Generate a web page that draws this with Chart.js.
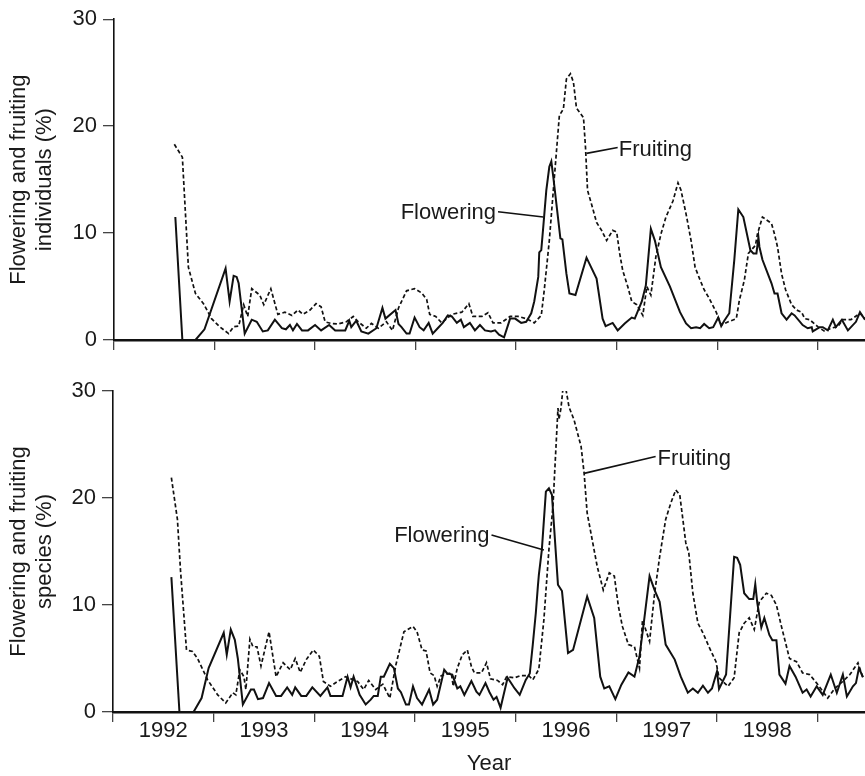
<!DOCTYPE html>
<html><head><meta charset="utf-8">
<script src="https://cdn.jsdelivr.net/npm/chart.js@4.4.1/dist/chart.umd.min.js"></script>
<style>
html,body{margin:0;padding:0;background:#fff;}
#wrap{position:relative;width:865px;height:776px;overflow:hidden;}
.panel{position:absolute;left:0;width:865px;}
</style></head><body>
<div id="wrap">
<div class="panel" style="top:0;height:360px"><canvas id="c1" width="865" height="360"></canvas></div>
<div class="panel" style="top:360px;height:416px"><canvas id="c2" width="865" height="416"></canvas></div>
</div>
<script>
const FONT = "'Liberation Sans', Arial, Helvetica, sans-serif";

// ---- axis ticks ----
const yearTicks  = [1992, 1993, 1994, 1995, 1996, 1997, 1998, 1999];
const yearLabels = ['1992', '1993', '1994', '1995', '1996', '1997', '1998', ''];
const valueTicks = [0, 10, 20, 30];

// ---- top panel: individuals (%) ----
const indivFloweringYears = [
  1992.61,1992.68,1992.81,1992.90,
  1993.11,1993.15,1993.19,1993.22,1993.24,1993.30,1993.37,1993.42,1993.48,1993.53,1993.60,1993.67,1993.71,1993.75,1993.78,1993.82,1993.87,1993.93,
  1994.00,1994.06,1994.14,1994.20,1994.30,1994.34,1994.36,1994.41,1994.46,1994.53,1994.61,1994.67,1994.70,1994.80,1994.83,1994.86,1994.91,1994.94,1994.99,
  1995.04,1995.08,1995.13,1995.17,1995.22,1995.27,1995.32,1995.36,1995.41,1995.45,1995.48,1995.54,1995.59,1995.64,1995.69,1995.75,1995.79,1995.83,1995.88,1995.94,1995.99,
  1996.05,1996.10,1996.15,1996.18,1996.22,1996.23,1996.25,1996.27,1996.30,1996.33,1996.35,1996.37,1996.44,1996.46,1996.50,1996.53,1996.59,1996.70,1996.80,1996.86,1996.89,1996.96,
  1997.01,1997.08,1997.15,1997.18,1997.25,1997.29,1997.34,1997.38,1997.44,1997.53,1997.63,1997.69,1997.74,1997.79,1997.83,1997.87,1997.92,1997.96,
  1998.01,1998.04,1998.07,1998.12,1998.17,1998.21,1998.26,1998.33,1998.36,1998.39,1998.41,1998.42,1998.45,1998.54,1998.57,1998.60,1998.64,1998.69,1998.74,1998.77,1998.85,1998.90,1998.94,1998.95,
  1999.02,1999.05,1999.10,1999.15,1999.18,1999.24,1999.30,1999.38,1999.42,1999.47];
const indivFloweringValues = [
  11.5,0,0,1.0,
  6.7,3.6,6.0,5.9,5.3,0.6,1.9,1.7,0.8,0.9,1.9,1.1,1.0,1.4,0.9,1.5,0.9,0.9,
  1.4,0.9,1.4,0.9,0.9,1.8,1.2,1.8,0.8,0.6,1.1,3.0,2.0,2.8,1.5,1.2,0.6,0.6,2.1,
  1.2,0.9,1.6,0.6,1.1,1.6,2.3,2.2,1.6,1.9,1.2,1.6,0.9,1.4,0.9,0.8,0.9,0.5,0.25,2.0,2.0,
  1.6,1.7,2.5,3.6,5.9,8.2,8.4,10.6,14.0,16.2,16.7,15.2,9.5,9.4,6.2,4.35,4.2,7.7,5.75,2.0,1.3,1.6,
  0.9,1.55,2.1,2.0,3.6,5.1,10.4,9.3,6.8,5.0,2.6,1.55,1.1,1.2,1.1,1.5,1.1,1.2,
  2.1,1.3,1.8,2.5,7.5,12.2,11.5,8.4,8.1,8.1,9.6,8.7,7.5,5.3,4.35,4.35,2.5,1.9,2.5,2.3,1.4,1.1,1.2,0.8,
  1.2,1.2,0.9,1.9,1.2,1.9,0.9,1.7,2.6,1.9];

const indivFruitingYears = [
  1992.60,1992.68,1992.74,1992.81,1992.89,1992.97,
  1993.05,1993.14,1993.19,1993.24,1993.29,1993.33,1993.37,1993.45,1993.49,1993.56,1993.63,1993.70,1993.77,1993.83,1993.88,1993.95,
  1994.01,1994.06,1994.10,1994.16,1994.23,1994.31,1994.38,1994.43,1994.51,1994.56,1994.63,1994.71,1994.77,1994.83,1994.91,1994.99,
  1995.06,1995.11,1995.14,1995.20,1995.26,1995.36,1995.46,1995.53,1995.57,1995.66,1995.72,1995.77,1995.85,1995.94,
  1996.02,1996.10,1996.18,1996.25,1996.28,1996.33,1996.38,1996.43,1996.47,1996.50,1996.54,1996.57,1996.60,1996.67,1996.69,1996.71,1996.75,1996.80,1996.85,1996.90,1996.96,
  1997.00,1997.03,1997.06,1997.11,1997.15,1997.20,1997.26,1997.30,1997.34,1997.39,1997.44,1997.49,1997.56,1997.61,1997.64,1997.69,1997.74,1997.78,1997.83,1997.87,1997.92,1997.99,
  1998.04,1998.11,1998.19,1998.22,1998.27,1998.31,1998.38,1998.40,1998.45,1998.54,1998.57,1998.60,1998.64,1998.68,1998.74,1998.79,1998.84,1998.87,1998.92,
  1999.00,1999.07,1999.13,1999.20,1999.25,1999.33,1999.42,1999.47];
const indivFruitingValues = [
  18.3,17.1,6.8,4.35,3.4,2.0,
  1.25,0.6,1.25,1.3,3.3,2.2,4.8,4.2,3.3,4.8,2.4,2.6,2.3,2.8,2.4,2.8,
  3.4,3.1,1.7,1.55,1.5,1.7,2.2,1.7,1.1,1.55,1.1,1.7,0.9,3.0,4.6,4.8,
  4.4,3.8,2.4,2.2,1.6,2.4,2.6,3.4,2.2,2.2,2.55,1.6,1.6,2.2,
  2.2,2.0,1.6,2.3,4.7,9.3,15.2,21.0,21.6,24.4,24.9,24.1,21.7,20.8,18.0,14.0,12.7,11.0,10.25,9.3,10.25,
  10.1,8.1,6.5,5.0,3.6,3.3,2.3,5.0,4.2,7.8,9.9,11.5,13.0,14.7,14.0,11.8,9.3,6.8,5.6,4.7,3.9,2.6,
  1.4,1.7,2.0,3.7,5.6,8.1,8.85,9.9,11.5,10.9,9.9,8.7,6.2,4.7,3.3,2.8,2.6,2.0,1.9,
  1.25,0.8,1.1,1.25,1.9,1.9,2.5,2.0];

// ---- bottom panel: species (%) ----
const speciesFloweringYears = [
  1992.58,1992.66,1992.80,1992.88,1992.95,
  1993.10,1993.13,1993.17,1993.21,1993.24,1993.29,1993.37,1993.40,1993.44,1993.49,1993.55,1993.62,1993.67,1993.73,1993.78,1993.81,1993.87,1993.92,1993.98,
  1994.06,1994.13,1994.16,1994.28,1994.33,1994.36,1994.39,1994.45,1994.51,1994.56,1994.59,1994.63,1994.66,1994.69,1994.75,1994.79,1994.83,1994.86,1994.91,1994.94,1994.98,
  1995.02,1995.07,1995.14,1995.18,1995.22,1995.29,1995.32,1995.37,1995.42,1995.45,1995.49,1995.56,1995.61,1995.64,1995.70,1995.74,1995.78,1995.81,1995.85,1995.92,1995.99,
  1996.04,1996.10,1996.14,1996.17,1996.20,1996.22,1996.23,1996.26,1996.30,1996.33,1996.36,1996.42,1996.46,1996.52,1996.57,1996.71,1996.78,1996.84,1996.88,1996.93,1996.99,
  1997.05,1997.12,1997.18,1997.23,1997.28,1997.33,1997.38,1997.43,1997.49,1997.58,1997.64,1997.71,1997.76,1997.81,1997.86,1997.91,1997.95,
  1998.00,1998.02,1998.09,1998.17,1998.20,1998.23,1998.27,1998.32,1998.36,1998.38,1998.40,1998.44,1998.47,1998.52,1998.55,1998.59,1998.62,1998.68,1998.72,1998.78,1998.85,1998.89,1998.93,1998.99,
  1999.05,1999.13,1999.19,1999.25,1999.29,1999.35,1999.38,1999.41,1999.45];
const speciesFloweringValues = [
  12.6,0,0,1.3,4.1,
  7.4,5.35,7.7,6.75,5.0,0.7,2.1,2.1,1.2,1.3,2.7,1.5,1.5,2.3,1.6,2.3,1.5,1.5,2.3,
  1.5,2.3,1.5,1.5,3.3,2.3,3.3,1.6,0.7,1.15,1.5,1.5,3.3,3.3,4.5,4.1,2.2,1.85,0.7,0.7,2.4,
  1.3,0.7,2.1,0.7,1.15,3.95,3.6,3.5,2.2,2.4,1.6,2.9,1.9,1.6,2.7,1.85,1.15,1.4,0.4,3.2,2.2,
  1.6,3.0,3.6,6.3,9.25,11.7,12.8,15.15,20.6,20.9,20.3,11.9,11.3,5.5,5.8,10.8,8.8,3.3,2.2,2.4,1.2,
  2.55,3.7,3.3,5.2,8.9,12.7,11.4,10.3,6.3,4.9,3.3,1.8,2.2,1.8,2.45,1.8,2.2,
  3.8,2.15,3.5,14.5,14.4,13.75,11.1,10.55,10.55,11.95,10.2,7.9,8.8,7.2,6.7,6.7,3.5,2.65,4.3,3.3,1.8,2.1,1.45,2.4,
  1.6,3.5,1.8,3.5,1.45,2.4,2.7,4.1,3.25];

const speciesFruitingYears = [
  1992.58,1992.64,1992.67,1992.73,1992.79,1992.84,1992.94,
  1993.04,1993.12,1993.19,1993.22,1993.26,1993.30,1993.32,1993.36,1993.39,1993.43,1993.47,1993.55,1993.62,1993.69,1993.76,1993.81,1993.86,1993.92,1993.99,
  1994.05,1994.09,1994.16,1994.23,1994.31,1994.43,1994.49,1994.54,1994.61,1994.68,1994.75,1994.81,1994.89,1994.98,
  1995.02,1995.07,1995.11,1995.15,1995.19,1995.22,1995.26,1995.36,1995.38,1995.42,1995.47,1995.52,1995.56,1995.59,1995.66,1995.71,1995.75,1995.82,1995.87,1995.91,1995.99,
  1996.05,1996.13,1996.17,1996.23,1996.28,1996.33,1996.37,1996.42,1996.43,1996.45,1996.48,1996.53,1996.58,1996.65,1996.68,1996.71,1996.76,1996.81,1996.87,1996.93,1996.98,
  1997.02,1997.06,1997.12,1997.18,1997.23,1997.26,1997.33,1997.38,1997.43,1997.49,1997.54,1997.59,1997.63,1997.69,1997.72,1997.76,1997.81,1997.86,1997.92,1997.99,
  1998.02,1998.11,1998.17,1998.22,1998.27,1998.32,1998.37,1998.42,1998.49,1998.54,1998.59,1998.64,1998.72,1998.79,1998.85,1998.92,1998.99,
  1999.03,1999.10,1999.17,1999.23,1999.32,1999.40,1999.45];
const speciesFruitingValues = [
  21.9,18.0,13.3,5.8,5.65,5.0,3.0,
  1.6,0.85,1.8,1.6,3.95,3.3,2.1,6.8,6.1,6.1,4.3,7.5,3.3,4.6,3.95,5.0,3.7,4.9,5.8,
  5.2,2.85,2.4,2.85,3.3,2.85,2.1,2.95,2.1,2.6,1.3,4.4,7.5,8.0,
  7.5,5.8,5.7,3.65,3.4,2.4,3.4,3.65,2.4,4.1,5.35,5.8,4.25,3.65,3.65,4.6,3.1,2.95,2.55,3.3,3.2,
  3.4,3.4,3.0,4.0,8.6,15.15,19.2,28.4,27.35,28.4,31.2,28.5,27.3,24.8,22.3,18.6,16.1,13.6,11.4,13.0,12.7,
  9.9,8.0,6.3,6.1,4.1,8.6,6.6,11.1,14.5,18.0,19.5,20.75,20.3,15.8,14.85,11.1,8.3,7.4,6.1,4.7,
  3.2,2.4,3.2,7.4,8.3,8.8,7.7,10.3,11.1,10.9,10.0,8.0,5.0,4.7,3.65,3.5,2.7,
  2.2,1.3,2.2,2.7,3.5,4.6,3.2];

function pts(xs, ys) { return xs.map((x, i) => ({ x: x, y: ys[i] })); }

// Draws axis titles and the callout labels
const calloutPlugin = {
  id: 'callouts',
  afterDatasetsDraw(chart, args, o) {
    const ctx = chart.ctx, xs = chart.scales.x, ys = chart.scales.y, ca = chart.chartArea;
    ctx.save();
    ctx.font = '22px ' + FONT;
    ctx.fillStyle = '#1a1a1a';
    const cy = (ca.top + ca.bottom) / 2;
    o.yTitle.forEach((t, i) => {
      ctx.save();
      ctx.translate(o.yTitleX[i], cy);
      ctx.rotate(-Math.PI / 2);
      ctx.textAlign = 'center';
      ctx.textBaseline = 'middle';
      ctx.fillText(t, 0, 0);
      ctx.restore();
    });
    if (o.xTitle) {
      ctx.textAlign = 'center';
      ctx.textBaseline = 'alphabetic';
      ctx.fillText(o.xTitle, (ca.left + ca.right) / 2, ca.bottom + o.xTitleOffset);
    }
    ctx.strokeStyle = '#111';
    ctx.lineWidth = 1.6;
    o.labels.forEach(l => {
      ctx.beginPath();
      ctx.moveTo(xs.getPixelForValue(l.from[0]), ys.getPixelForValue(l.from[1]));
      ctx.lineTo(xs.getPixelForValue(l.to[0]), ys.getPixelForValue(l.to[1]));
      ctx.stroke();
      ctx.textAlign = l.align;
      ctx.textBaseline = 'alphabetic';
      ctx.fillText(l.text, xs.getPixelForValue(l.at[0]), ys.getPixelForValue(l.at[1]));
    });
    ctx.restore();
  }
};

function makeChart(id, p) {
  return new Chart(document.getElementById(id), {
    type: 'line',
    data: {
      datasets: [
        { label: 'Fruiting', data: p.fruit, borderColor: '#111', borderWidth: 1.7, borderDash: [4, 2.5], pointRadius: 0, tension: 0, fill: false },
        { label: 'Flowering', data: p.flower, borderColor: '#111', borderWidth: 2, pointRadius: 0, tension: 0, fill: false }
      ]
    },
    options: {
      responsive: false, animation: false, devicePixelRatio: 1,
      layout: { autoPadding: false, padding: { top: p.top, left: 0, right: 0, bottom: 0 } },
      plugins: {
        legend: { display: false }, tooltip: { enabled: false },
        callouts: { yTitle: p.yTitle, yTitleX: [19, 45], xTitle: p.xTitle, xTitleOffset: 58, labels: p.labels }
      },
      scales: {
        x: {
          type: 'linear', min: 1992, max: 1999.47,
          afterBuildTicks: s => { s.ticks = yearTicks.map(v => ({ value: v })); },
          afterFit: s => { s.height = p.xHeight; },
          border: { display: true, color: '#111', width: 2.5 },
          grid: { display: true, drawOnChartArea: false, drawTicks: true, tickLength: 10, color: '#444', lineWidth: 1.3 },
          ticks: {
            display: p.showYears, autoSkip: false, maxRotation: 0, minRotation: 0,
            labelOffset: 50.3, padding: -4, color: '#1a1a1a',
            font: { family: FONT, size: 22 },
            callback: v => { const i = yearTicks.indexOf(v); return i >= 0 ? yearLabels[i] : ''; }
          }
        },
        y: {
          min: 0, max: 30,
          afterBuildTicks: s => { s.ticks = valueTicks.map(v => ({ value: v })); },
          afterFit: s => { s.width = p.left; },
          border: { display: true, color: '#111', width: 1.6 },
          grid: { display: true, drawOnChartArea: false, drawTicks: true, tickLength: 11, color: '#444', lineWidth: 1.3 },
          ticks: { padding: 6, color: '#1a1a1a', font: { family: FONT, size: 22 }, callback: v => String(v) }
        }
      }
    },
    plugins: [calloutPlugin]
  });
}

makeChart('c1', {
  top: 18, left: 114, xHeight: 20, showYears: false,
  flower: pts(indivFloweringYears, indivFloweringValues),
  fruit: pts(indivFruitingYears, indivFruitingValues),
  yTitle: ['Flowering and fruiting', 'individuals (%)'],
  xTitle: null,
  labels: [
    { text: 'Flowering', align: 'right', at: [1995.80, 11.3], from: [1995.82, 12.0], to: [1996.27, 11.5] },
    { text: 'Fruiting', align: 'left', at: [1997.02, 17.2], from: [1996.70, 17.45], to: [1997.01, 18.0] }
  ]
});

makeChart('c2', {
  top: 31, left: 113, xHeight: 64, showYears: true,
  flower: pts(speciesFloweringYears, speciesFloweringValues),
  fruit: pts(speciesFruitingYears, speciesFruitingValues),
  yTitle: ['Flowering and fruiting', 'species (%)'],
  xTitle: 'Year',
  labels: [
    { text: 'Flowering', align: 'right', at: [1995.74, 15.9], from: [1995.76, 16.55], to: [1996.28, 15.15] },
    { text: 'Fruiting', align: 'left', at: [1997.41, 23.1], from: [1996.68, 22.3], to: [1997.39, 23.87] }
  ]
});
</script>
</body></html>
